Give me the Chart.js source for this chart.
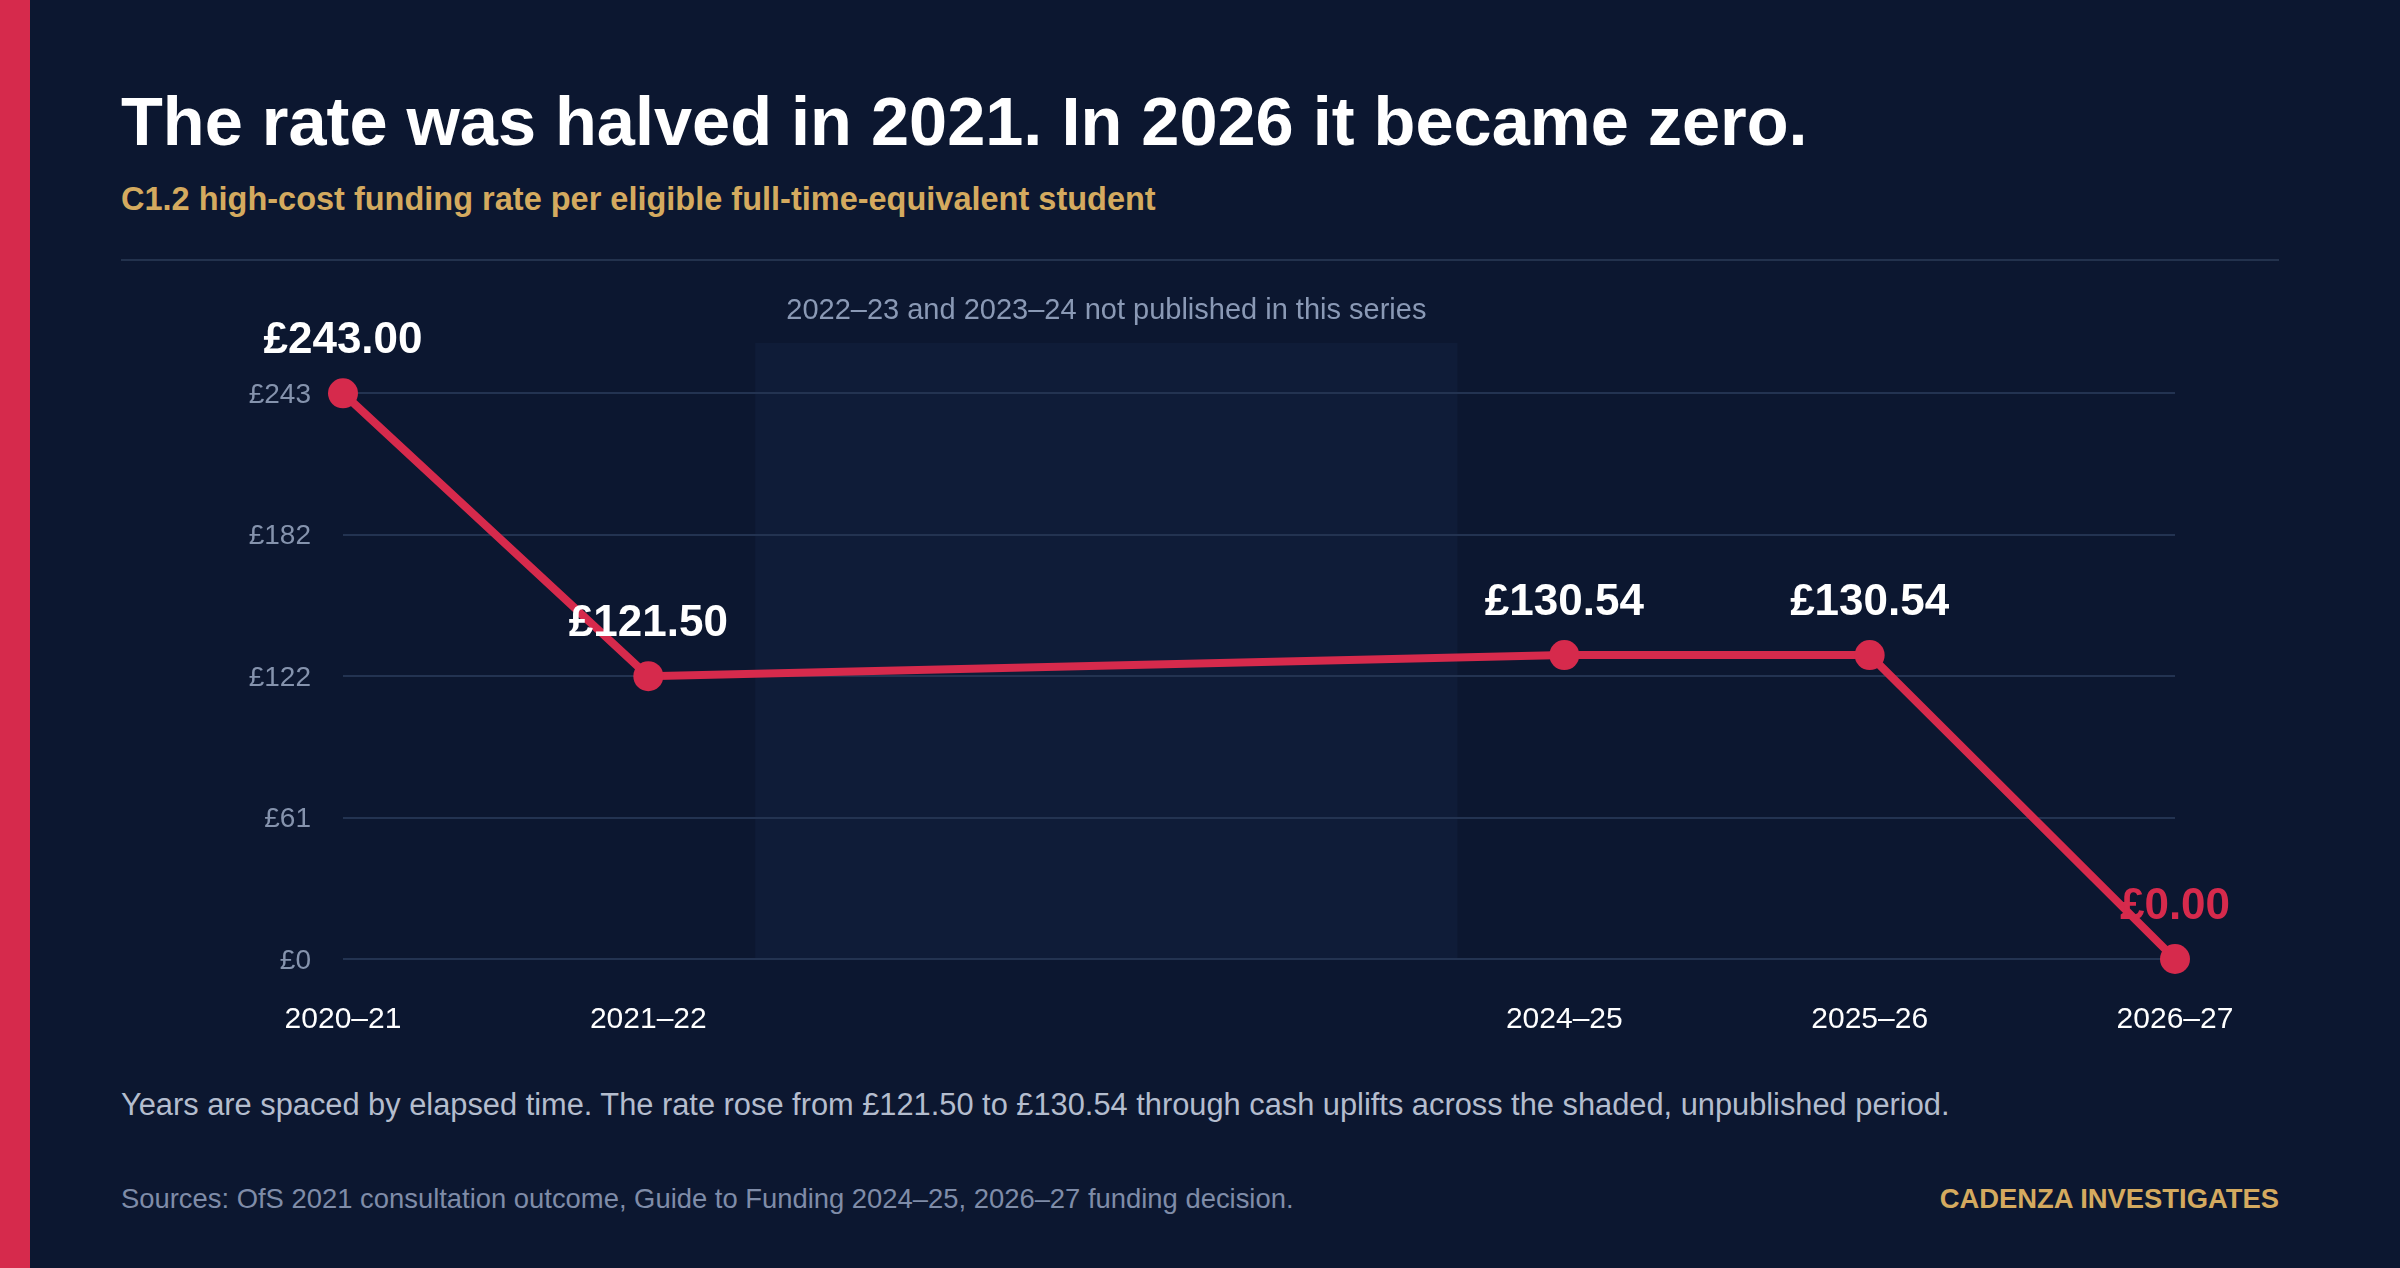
<!DOCTYPE html>
<html>
<head>
<meta charset="utf-8">
<script src="https://cdn.jsdelivr.net/npm/chart.js@4.4.1/dist/chart.umd.min.js"></script>
<style>
  html, body { margin: 0; padding: 0; }
  body {
    width: 2400px; height: 1268px; overflow: hidden; position: relative;
    background: #0c1730;
    font-family: "Liberation Sans", Arial, sans-serif;
  }
  .bar { position: absolute; left: 0; top: 0; width: 30px; height: 1268px; background: #d62a4c; }
  .txt { position: absolute; line-height: 1; white-space: nowrap; margin: 0; }
  #title { left: 121px; top: 88px; font-size: 68.5px; font-weight: bold; color: #ffffff; }
  #subtitle { left: 121px; top: 183px; font-size: 32.5px; font-weight: bold; color: #d4aa5f; }
  .rule { position: absolute; left: 121px; top: 259px; width: 2158px; height: 2px; background: #23324d; }
  #note { left: 121px; top: 1090px; font-size: 30.8px; color: #b4bdce; }
  #sources { left: 121px; top: 1185px; font-size: 27.4px; color: #7f8ca8; }
  #credit { right: 121px; top: 1185px; font-size: 27.4px; font-weight: bold; color: #d4aa5f; }
  #chart { position: absolute; left: 0; top: 260px; }
</style>
</head>
<body>
<div class="bar"></div>
<h1 class="txt" id="title">The rate was halved in 2021. In 2026 it became zero.</h1>
<div class="txt" id="subtitle">C1.2 high-cost funding rate per eligible full-time-equivalent student</div>
<div class="rule"></div>
<canvas id="chart" width="2400" height="800"></canvas>
<div class="txt" id="note">Years are spaced by elapsed time. The rate rose from £121.50 to £130.54 through cash uplifts across the shaded, unpublished period.</div>
<div class="txt" id="sources">Sources: OfS 2021 consultation outcome, Guide to Funding 2024–25, 2026–27 funding decision.</div>
<div class="txt" id="credit">CADENZA INVESTIGATES</div>

<script>
// academic years, placed by start year so spacing follows elapsed time
const years = [2020, 2021, 2024, 2025, 2026];
const yearLabels = ["2020–21", "2021–22", "2024–25", "2025–26", "2026–27"];
const rates = [243.00, 121.50, 130.54, 130.54, 0.00];

const yTicks = [0, 60.75, 121.5, 182.25, 243];
const yTickLabels = ["£0", "£61", "£122", "£182", "£243"];

// unpublished years
const gapStart = 2021.35;
const gapEnd = 2023.65;
const gapNote = "2022–23 and 2023–24 not published in this series";

const RED = "#d62a4c";
const FONT = '"Liberation Sans", Arial, sans-serif';

const gapShade = {
  id: "gapShade",
  beforeDraw(chart) {
    const { ctx, chartArea, scales } = chart;
    const x0 = scales.x.getPixelForValue(gapStart);
    const x1 = scales.x.getPixelForValue(gapEnd);
    ctx.save();
    ctx.fillStyle = "#0f1c38";
    ctx.fillRect(x0, chartArea.top, x1 - x0, chartArea.bottom - chartArea.top);
    ctx.fillStyle = "#8a99b5";
    ctx.font = "29px " + FONT;
    ctx.textAlign = "center";
    ctx.textBaseline = "alphabetic";
    ctx.fillText(gapNote, (x0 + x1) / 2, chartArea.top - 24);
    ctx.restore();
  }
};

const valueLabels = {
  id: "valueLabels",
  afterDatasetsDraw(chart) {
    const ctx = chart.ctx;
    const pts = chart.getDatasetMeta(0).data;
    ctx.save();
    ctx.font = "bold 44px " + FONT;
    ctx.textAlign = "center";
    ctx.textBaseline = "alphabetic";
    pts.forEach((pt, i) => {
      ctx.fillStyle = rates[i] === 0 ? RED : "#ffffff";
      ctx.fillText("£" + rates[i].toFixed(2), pt.x, pt.y - 40);
    });
    ctx.restore();
  }
};

new Chart(document.getElementById("chart"), {
  type: "line",
  data: {
    datasets: [{
      data: years.map((yr, i) => ({ x: yr, y: rates[i] })),
      borderColor: RED,
      backgroundColor: RED,
      borderWidth: 8,
      pointRadius: 15,
      pointBorderWidth: 0,
      pointBackgroundColor: RED,
      tension: 0,
      clip: false
    }]
  },
  options: {
    responsive: false,
    devicePixelRatio: 1,
    animation: false,
    layout: { padding: { left: 0, right: 225, top: 83, bottom: 0 } },
    plugins: { legend: { display: false }, tooltip: { enabled: false } },
    scales: {
      x: {
        type: "linear",
        min: 2020,
        max: 2026,
        afterBuildTicks: s => { s.ticks = years.map(v => ({ value: v })); },
        afterFit: s => { s.height = 101; },
        grid: { display: false },
        border: { display: false },
        ticks: {
          color: "#ffffff",
          font: { family: FONT, size: 30 },
          padding: 35,
          maxRotation: 0,
          autoSkip: false,
          callback: (v, i) => yearLabels[i]
        }
      },
      y: {
        min: 0,
        max: 264.6,
        afterBuildTicks: s => { s.ticks = yTicks.map(v => ({ value: v })); },
        afterFit: s => { s.width = 343; },
        grid: { color: "#233351", lineWidth: 2, drawTicks: false },
        border: { display: false },
        ticks: {
          color: "#8593ad",
          font: { family: FONT, size: 28 },
          padding: 32,
          labelOffset: 2,
          callback: (v, i) => yTickLabels[i]
        }
      }
    }
  },
  plugins: [gapShade, valueLabels]
});
</script>
</body>
</html>
